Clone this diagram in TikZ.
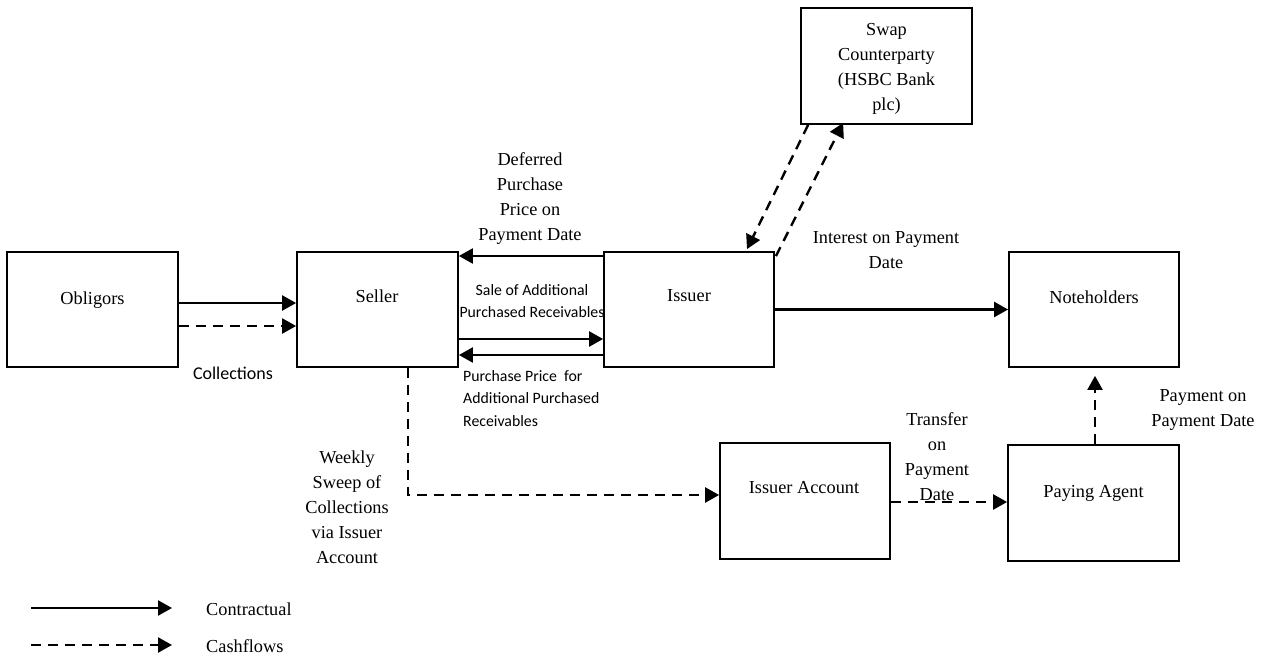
\documentclass[tikz,border=0pt]{standalone}
\usepackage{fontspec}
\setmainfont{Liberation Serif}
\newfontfamily\calfont{Carlito}
\usetikzlibrary{arrows.meta,calc}
\begin{document}
\begin{tikzpicture}[x=1pt,y=-1pt,
  box/.style={draw,line width=1.8pt,inner sep=0pt},
  lbl/.style={font=\fontsize{18.3}{25}\selectfont,align=center,inner sep=0pt},
  slbl/.style={font=\calfont\fontsize{15.8}{22.5}\selectfont,inner sep=0pt},
  con/.style={line width=2.4pt,-{Triangle[length=14pt,width=15pt]}},
  cash/.style={con,dash pattern=on 10pt off 7pt}]
\useasboundingbox (0,0) rectangle (1265,655);

% boxes
\node[box,minimum width=171pt,minimum height=115pt] (obl) at (92.5,309.5) {};
\node[box,minimum width=161pt,minimum height=115pt] (seller) at (377.5,309.5) {};
\node[box,minimum width=170pt,minimum height=115pt] (issuer) at (689,309.5) {};
\node[box,minimum width=170pt,minimum height=115pt] (note) at (1094,309.5) {};
\node[box,minimum width=171pt,minimum height=116pt] (swap) at (886.5,66) {};
\node[box,minimum width=170pt,minimum height=116pt] (acct) at (805,501) {};
\node[box,minimum width=171pt,minimum height=116pt] (pay) at (1093.5,503) {};

% box texts
\node[lbl] (oblt) at (92.5,300) {Obligors};
\node[lbl] (sellert) at (377,296) {Seller};
\node[lbl] (issuert) at (689,296) {Issuer};
\node[lbl] (notet) at (1094,297) {Noteholders};
\node[lbl] (swapt) at (886.5,69) {Swap\\Counterparty\\(HSBC Bank\\plc)};
\node[lbl] (acctt) at (804,488) {Issuer Account};
\node[lbl] (payt) at (1093.5,493) {Paying Agent};

% connectors
\draw[con] ($(obl.east)+(0,-6.5)$) -- ($(seller.west)+(0,-6.5)$);
\draw[cash] ($(obl.east)+(0,16.5)$) -- ($(seller.west)+(0,16.5)$);
\draw[con] ($(issuer.west)+(0,-53.5)$) -- ($(seller.east)+(0,-53.5)$);
\draw[con] ($(seller.east)+(0,29.5)$) -- ($(issuer.west)+(0,29.5)$);
\draw[con] ($(issuer.west)+(0,45.5)$) -- ($(seller.east)+(0,45.5)$);
\draw[con] (issuer.east) -- (note.west);
\draw[cash] ($(seller.south)+(30.5,0)$) |- ($(acct.west)+(0,-6)$);
\draw[cash] ($(acct.east)+(0,1)$) -- ($(pay.west)+(0,-1)$);
\draw[cash] ($(pay.north)+(1.5,0)$) -- ($(note.south)+(1,8)$);
\draw[cash] ($(swap.south west)+(8,0)$) -- ($(issuer.north)+(58,-2)$);
\draw[cash] ($(issuer.north east)+(1,5)$) -- ($(swap.south west)+(43,-2)$);

% connector labels
\node[lbl] (deft) at (530,199) {Deferred\\Purchase\\Price on\\Payment Date};
\node[slbl,align=center] (salet) at (532,301) {Sale of Additional\\Purchased Receivables};
\node[slbl,align=left,anchor=west] (ppt) at (463,398.5) {Purchase Price\ \ for\\Additional Purchased\\Receivables};
\node[font=\calfont\fontsize{18}{22}\selectfont,inner sep=0pt] (collt) at (233,373) {Collections};
\node[lbl] (weekt) at (347,507) {Weekly\\Sweep of\\Collections\\via Issuer\\Account};
\node[lbl] (trant) at (937,457) {Transfer\\on\\Payment\\Date};
\node[lbl] (intt) at (886,250) {Interest on Payment\\Date};
\node[lbl,font=\fontsize{18.3}{25.5}\selectfont] (paymt) at (1203,410) {Payment on\\Payment Date};

% legend
\coordinate (l1a) at (31,608);
\coordinate (l1b) at (172,608);
\coordinate (l2a) at (31,645);
\coordinate (l2b) at (172,645);
\draw[con] (l1a) -- (l1b);
\draw[cash] (l2a) -- (l2b);
\node[lbl,anchor=west] (legc) at (206,609) {Contractual};
\node[lbl,anchor=west] (legf) at (206,646) {Cashflows};
\end{tikzpicture}
\end{document}
